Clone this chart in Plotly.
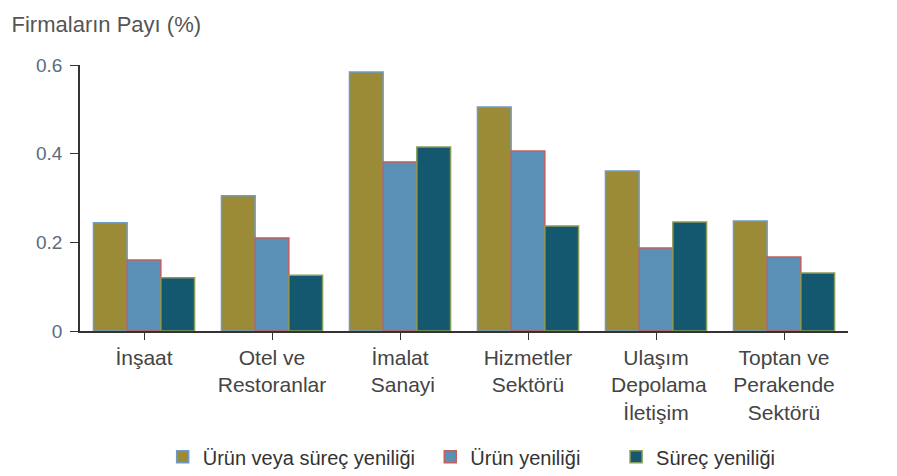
import plotly.graph_objects as go

categories = [
    "İnşaat",
    "Otel ve<br>Restoranlar",
    "İmalat<br> Sanayi",
    "Hizmetler<br>Sektörü",
    "Ulaşım<br> Depolama<br>İletişim",
    "Toptan ve<br>Perakende<br>Sektörü",
]
urun_veya_surec = [0.244, 0.305, 0.584, 0.505, 0.361, 0.248]
urun = [0.160, 0.210, 0.381, 0.406, 0.187, 0.167]
surec = [0.120, 0.126, 0.415, 0.237, 0.246, 0.131]

series = [
    ("Ürün veya süreç yeniliği", urun_veya_surec, "#9b8b36", "#6f9cc4", "legend"),
    ("Ürün yeniliği", urun, "#5a8fb6", "#c0605f", "legend2"),
    ("Süreç yeniliği", surec, "#14586f", "#8a9a5a", "legend3"),
]

fig = go.Figure()
for name, vals, color, edge, leg in series:
    fig.add_trace(
        go.Bar(
            name=name,
            x=list(range(len(categories))),
            y=vals,
            marker=dict(color=color, line=dict(color=edge, width=1.5)),
            legend=leg,
            showlegend=True,
        )
    )

legend_font = dict(family="Liberation Sans, Arial, sans-serif", size=20, color="#333")


def leg(x):
    return dict(
        x=x, y=0.041, xref="container", yref="container",
        xanchor="left", yanchor="middle",
        font=legend_font, itemwidth=30, bgcolor="rgba(0,0,0,0)",
    )


# page body adds 8px margin, so the figure is a bit smaller than the window
fig.update_layout(
    width=889,
    height=468,
    margin=dict(l=72, r=49, t=57, b=145, autoexpand=False),
    paper_bgcolor="white",
    plot_bgcolor="white",
    showlegend=True,
    barmode="group",
    bargap=0.21,
    bargroupgap=0,
    font=dict(family="Liberation Sans, Arial, sans-serif", color="#444"),
    title=dict(
        text="Firmaların Payı (%)",
        x=0.004,
        xanchor="left",
        y=0.982,
        yanchor="top",
        pad=dict(t=0, b=0, l=0, r=0),
        font=dict(size=22, color="#555"),
    ),
    legend=leg(0.174),
    legend2=leg(0.475),
    legend3=leg(0.684),
)

fig.update_xaxes(
    tickvals=list(range(len(categories))),
    ticktext=categories,
    range=[-0.5, len(categories) - 0.5],
    showline=True,
    linecolor="#333",
    linewidth=1.5,
    ticks="outside",
    tickson="boundaries",
    ticklen=7,
    tickcolor="#333",
    tickfont=dict(size=21, color="#444"),
    showgrid=False,
    automargin=False,
)
fig.update_yaxes(
    range=[0, 0.6],
    tickvals=[0, 0.2, 0.4, 0.6],
    ticktext=["0", "0.2", "0.4", "0.6"],
    showline=True,
    linecolor="#333",
    linewidth=1.5,
    ticks="outside",
    ticklen=8,
    tickcolor="#333",
    tickfont=dict(size=19, color="#5b6b80"),
    ticklabelstandoff=4,
    showgrid=False,
    zeroline=False,
    automargin=False,
)

fig.write_html("out.html")
